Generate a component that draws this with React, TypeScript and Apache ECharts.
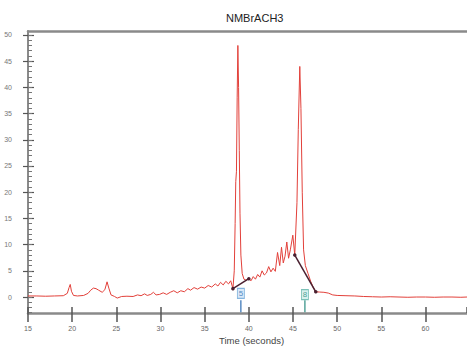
import React, { useEffect, useRef } from "react";
import * as echarts from "echarts";

const title = "NMBrACH3";
const xName = "Time (seconds)";

const times = [
  15.0, 16.0, 17.0, 18.0, 19.0, 19.45, 19.65, 19.78, 19.92, 20.15, 20.6, 21.3, 21.8, 22.1, 22.4, 22.7, 23.0,
  23.4, 23.7, 23.95, 24.15, 24.4, 24.8, 25.1, 25.6, 26.2, 26.9, 27.4, 27.8, 28.2, 28.5, 28.9, 29.2, 29.5,
  29.9, 30.3, 30.7, 31.1, 31.5, 31.9, 32.3, 32.7, 33.1, 33.4, 33.8, 34.2, 34.6, 35.0, 35.4, 35.8, 36.2,
  36.5, 36.8, 37.1, 37.4, 37.7, 37.95, 38.2, 38.35, 38.45, 38.52, 38.6, 38.68, 38.76, 38.84, 38.92, 39.0,
  39.1, 39.25, 39.45, 39.7, 40.0, 40.25, 40.5, 40.75, 41.0, 41.25, 41.5, 41.75, 42.0, 42.25, 42.5, 42.75,
  43.0, 43.25, 43.5, 43.7, 43.9, 44.1, 44.3, 44.5, 44.7, 44.98, 45.2, 45.45, 45.6, 45.77, 45.9, 46.05,
  46.2, 46.4, 46.7, 47.0, 47.3, 47.58, 48.0, 48.5, 49.0, 49.5, 50.0, 51.0, 52.0, 53.0, 54.0, 55.0, 56.0,
  57.0, 58.0, 59.0, 60.0, 61.0, 62.0, 63.0, 64.0, 64.7,
];
const signal = [
  0.2, 0.2, 0.15, 0.2, 0.25, 0.7, 1.8, 2.4, 1.1, 0.3, 0.2, 0.3, 0.7, 1.3, 1.7, 1.6, 1.3,
  0.9, 1.4, 2.9, 1.7, 0.4, 0.1, -0.2, 0.1, 0.15, 0.1, 0.4, 0.25, 0.6, 0.3, 0.5, 0.9, 0.4,
  0.5, 0.8, 0.5, 0.9, 1.2, 0.8, 1.2, 1.0, 1.6, 1.3, 1.8, 1.5, 1.9, 1.7, 2.2, 1.9, 2.5,
  2.1, 2.8, 2.3, 3.0, 2.5, 3.1, 1.6, 5, 14, 22, 24, 38, 48, 40, 28, 16,
  8, 4.5, 3.4, 3.2, 3.5, 3.1, 3.9, 3.4, 4.3, 3.8, 5.0, 4.2, 4.6, 5.8, 4.8, 5.5,
  4.9, 8.5, 6.0, 9.5, 6.5, 7.8, 10.5, 7.4, 9.0, 11.8, 8.0, 18, 32, 44, 36, 20,
  9, 6.0, 4.5, 3.0, 1.8, 1.0, 0.95, 0.9, 0.75, 0.4, 0.3, 0.25, 0.2, 0.1, 0.05, 0.0, 0.05,
  0.0, -0.05, 0.0, 0.0, -0.05, 0.0, 0.0, -0.05, 0.0,
];

// integration baselines [startX, startY, endX, endY]
const baseline1 = [38.2, 1.6, 40.0, 3.5];
const baseline2 = [45.2, 8.0, 47.58, 1.0];
// peak markers
const peakLabels = ["5", "8"];
const peakX = [39.1, 46.35];
const peakY = [0.7, 0.45];

const yTicks = [0, 5, 10, 15, 20, 25, 30, 35, 40, 45, 50];
const yMinor: number[] = [];
for (let v = -3; v <= 50; v++) yMinor.push(v);

export default function App() {
  const ref = useRef<HTMLDivElement>(null);
  useEffect(() => {
    if (!ref.current) return;
    const chart = echarts.init(ref.current, null, { renderer: "svg" });
    const gray = "#8a8a8a";
    const font = "Liberation Sans, Arial, sans-serif";
    const markerColors = [
      { fill: "#cfe4f6", border: "#6aa4d6", text: "#2f6fb3" },
      { fill: "#cdece8", border: "#5fb3a8", text: "#2b8c80" },
    ];
    chart.setOption({
      animation: false,
      backgroundColor: "#ffffff",
      textStyle: { fontFamily: font },
      grid: { left: 28, top: 31, right: 0, bottom: 38, containLabel: false, outerBoundsMode: "none" },
      graphic: [
        {
          type: "text",
          left: 226,
          top: 12,
          style: { text: title, font: "11px Liberation Sans, Arial, sans-serif", fill: "#222" },
        },
        {
          type: "text",
          left: 219,
          top: 335,
          style: { text: xName, font: "9.5px Liberation Sans, Arial, sans-serif", fill: "#444" },
        },
      ],
      xAxis: [
        {
          type: "value",
          min: 15,
          max: 64.7,
          interval: 5,
          position: "bottom",
          axisLine: { show: true, onZero: false, lineStyle: { color: gray, width: 2.5 } },
          axisTick: { show: true, inside: false, length: 9, lineStyle: { color: "#555", width: 1.5 } },
          axisLabel: { color: "#666", fontSize: 7, margin: 12, showMaxLabel: false },
          splitLine: { show: false },
        },
        {
          type: "value",
          min: 15,
          max: 64.7,
          interval: 5,
          position: "bottom",
          axisLine: { show: false, onZero: false },
          axisTick: { show: true, inside: true, length: 6, lineStyle: { color: "#555", width: 1.5 } },
          axisLabel: { show: false },
          splitLine: { show: false },
        },
        {
          type: "value",
          min: 15,
          max: 64.7,
          position: "top",
          axisLine: { show: true, onZero: false, lineStyle: { color: gray, width: 2.5 } },
          axisTick: { show: false },
          axisLabel: { show: false },
          splitLine: { show: false },
        },
      ],
      yAxis: [
        {
          type: "value",
          min: -3.05,
          max: 50.76,
          position: "left",
          axisLine: { show: true, onZero: false, lineStyle: { color: gray, width: 2 } },
          axisTick: { show: true, inside: false, length: 5, customValues: yTicks, lineStyle: { color: "#555", width: 1.2 } },
          axisLabel: { show: true, customValues: yTicks, color: "#777", fontSize: 7, margin: 16 },
          splitLine: { show: false },
        },
        {
          type: "value",
          min: -3.05,
          max: 50.76,
          position: "left",
          axisLine: { show: false, onZero: false },
          axisTick: { show: true, inside: true, length: 6, customValues: yTicks, lineStyle: { color: "#555", width: 1.2 } },
          axisLabel: { show: false },
          splitLine: { show: false },
        },
        {
          type: "value",
          min: -3.05,
          max: 50.76,
          position: "left",
          axisLine: { show: false, onZero: false },
          axisTick: { show: true, inside: true, length: 4, customValues: yMinor, lineStyle: { color: "#777", width: 1 } },
          axisLabel: { show: false },
          splitLine: { show: false },
        },
      ],
      series: [
        {
          type: "line",
          data: times.map((t, i) => [t, signal[i]]),
          showSymbol: false,
          lineStyle: { color: "#e2403a", width: 1 },
          z: 2,
        },
        ...[baseline1, baseline2].map((b) => ({
          type: "line",
          data: [
            [b[0], b[1]],
            [b[2], b[3]],
          ],
          symbol: "circle",
          symbolSize: 3.5,
          showSymbol: true,
          itemStyle: { color: "#4a2030" },
          lineStyle: { color: "#4a2030", width: 1.5 },
          z: 3,
        })),
        ...peakX.map((px, i) => ({
          type: "line",
          data: [
            [px, -0.6],
            [px, -2.9],
          ],
          showSymbol: false,
          lineStyle: { color: markerColors[i].text, width: 1.2 },
          z: 3,
        })),
        {
          type: "scatter",
          data: peakX.map((px, i) => ({
            value: [px, peakY[i]],
            itemStyle: { color: markerColors[i].fill, borderColor: markerColors[i].border, borderWidth: 1 },
            label: {
              show: true,
              position: "inside",
              formatter: peakLabels[i],
              color: markerColors[i].text,
              fontSize: 8,
            },
          })),
          symbol: "rect",
          symbolSize: [7, 10],
          z: 4,
        },
      ],
    });
    return () => chart.dispose();
  }, []);
  return <div ref={ref} style={{ width: 467, height: 351, position: "absolute", left: 0, top: 0 }} />;
}
